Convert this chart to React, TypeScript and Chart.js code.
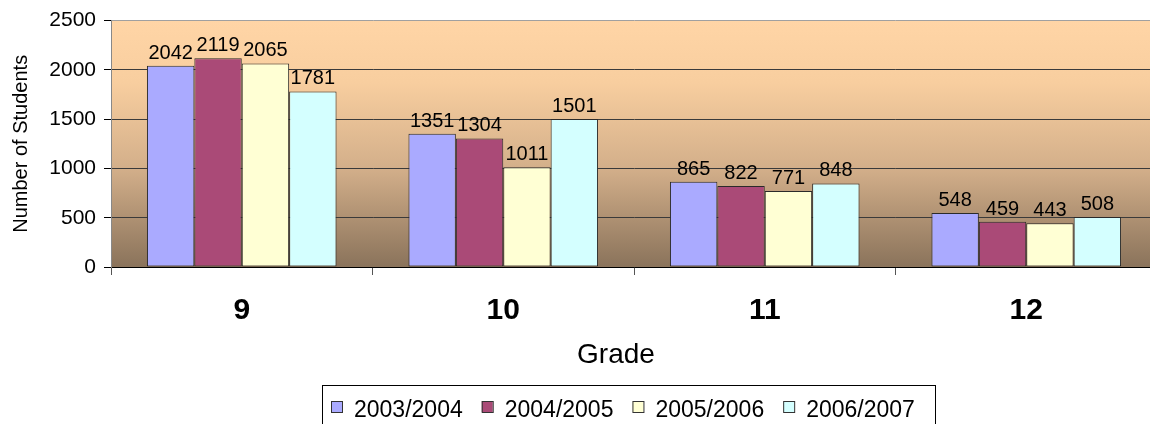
import { useEffect, useRef } from 'react';
import { Chart, registerables } from 'chart.js';

Chart.register(...registerables);

const grades = ['9', '10', '11', '12'];
const seriesLabels = ['2003/2004', '2004/2005', '2005/2006', '2006/2007'];
const values2003 = [2042, 1351, 865, 548];
const values2004 = [2119, 1304, 822, 459];
const values2005 = [2065, 1011, 771, 443];
const values2006 = [1781, 1501, 848, 508];
const yTicks = [0, 500, 1000, 1500, 2000, 2500];
const barColors = ['#AAAAFF', '#AA4A77', '#FFFFD4', '#D4FFFF'];

const FONT = "'Liberation Sans', Arial, sans-serif";

const decorPlugin = {
  id: 'decor',
  beforeDraw(chart: any) {
    const { ctx, chartArea } = chart;
    const g = ctx.createLinearGradient(0, chartArea.top, 0, chartArea.bottom);
    g.addColorStop(0, '#FFD5A6');
    g.addColorStop(0.25, '#F8CE9F');
    g.addColorStop(0.6, '#D3AF8A');
    g.addColorStop(1, '#8A735B');
    ctx.save();
    ctx.fillStyle = g;
    ctx.fillRect(chartArea.left, chartArea.top, chartArea.right - chartArea.left, chartArea.bottom - chartArea.top);
    ctx.restore();
  },
  afterDraw(chart: any) {
    const { ctx } = chart;
    const xScale = chart.scales.x;
    ctx.save();
    ctx.fillStyle = '#000';
    // data labels
    ctx.font = `20px ${FONT}`;
    ctx.textAlign = 'center';
    ctx.textBaseline = 'alphabetic';
    chart.data.datasets.forEach((ds: any, di: number) => {
      const meta = chart.getDatasetMeta(di);
      meta.data.forEach((el: any, i: number) => {
        ctx.fillText(String(ds.data[i]), el.x, el.y - 7);
      });
    });
    // category labels
    ctx.font = `bold 30px ${FONT}`;
    grades.forEach((g, i) => {
      ctx.fillText(g, xScale.getPixelForValue(i), 319);
    });
    // x title
    ctx.font = `28px ${FONT}`;
    ctx.fillText('Grade', 616, 363);
    // y title
    ctx.save();
    ctx.translate(27, (chart.chartArea.top + chart.chartArea.bottom) / 2);
    ctx.rotate(-Math.PI / 2);
    ctx.font = `20px ${FONT}`;
    ctx.fillText('Number of Students', 0, 0);
    ctx.restore();
    // legend
    ctx.strokeStyle = '#000';
    ctx.lineWidth = 1;
    ctx.strokeRect(322.5, 385.5, 613, 60);
    ctx.font = `23px ${FONT}`;
    ctx.textAlign = 'left';
    let x = 331;
    seriesLabels.forEach((lab, i) => {
      ctx.fillStyle = barColors[i];
      ctx.fillRect(x, 401, 11, 11);
      ctx.strokeStyle = '#333';
      ctx.strokeRect(x + 0.5, 401.5, 11, 11);
      ctx.fillStyle = '#000';
      ctx.fillText(lab, x + 23, 417);
      x += 23 + ctx.measureText(lab).width + 19;
    });
    ctx.restore();
  },
};

export default function App() {
  const ref = useRef<HTMLCanvasElement>(null);
  useEffect(() => {
    if (!ref.current) return;
    const datasets = [values2003, values2004, values2005, values2006].map((d, i) => ({
      label: seriesLabels[i],
      data: d,
      backgroundColor: barColors[i],
      borderColor: '#2a2a2a',
      borderWidth: 1,
      borderSkipped: false,
      categoryPercentage: 0.725,
      barPercentage: 1.0,
    }));
    const chart = new Chart(ref.current, {
      type: 'bar',
      data: { labels: grades, datasets },
      plugins: [decorPlugin],
      options: {
        animation: false,
        responsive: false,
        devicePixelRatio: 1,
        layout: { padding: { top: 20, right: 3, left: 0, bottom: 0 } },
        plugins: { legend: { display: false }, tooltip: { enabled: false } },
        scales: {
          x: {
            offset: true,
            ticks: { display: false },
            grid: {
              offset: true,
              drawOnChartArea: false,
              drawTicks: true,
              tickLength: 8,
              color: '#555',
            },
            border: { color: '#000', width: 1 },
            afterFit: (s: any) => {
              s.height = 157;
            },
          },
          y: {
            min: 0,
            max: 2500,
            afterBuildTicks: (s: any) => {
              s.ticks = yTicks.map((v) => ({ value: v }));
            },
            ticks: {
              font: { family: FONT, size: 21 },
              color: '#000',
              padding: 8,
              callback: (v: any) => String(v),
            },
            grid: {
              color: (c: any) => (c.tick && c.tick.value === 2500 ? '#A0A0A0' : '#3a3a3a'),
              tickColor: '#000',
              tickLength: 7,
            },
            border: { color: '#888', width: 1 },
            afterFit: (s: any) => {
              s.width = 111;
            },
          },
        },
      },
    });
    return () => chart.destroy();
  }, []);
  return (
    <div style={{ position: 'fixed', left: 0, top: 0, width: 1150, height: 424, overflow: 'hidden', background: '#fff' }}>
      <canvas ref={ref} width={1160} height={424} style={{ width: '1160px', height: '424px', display: 'block' }} />
    </div>
  );
}
